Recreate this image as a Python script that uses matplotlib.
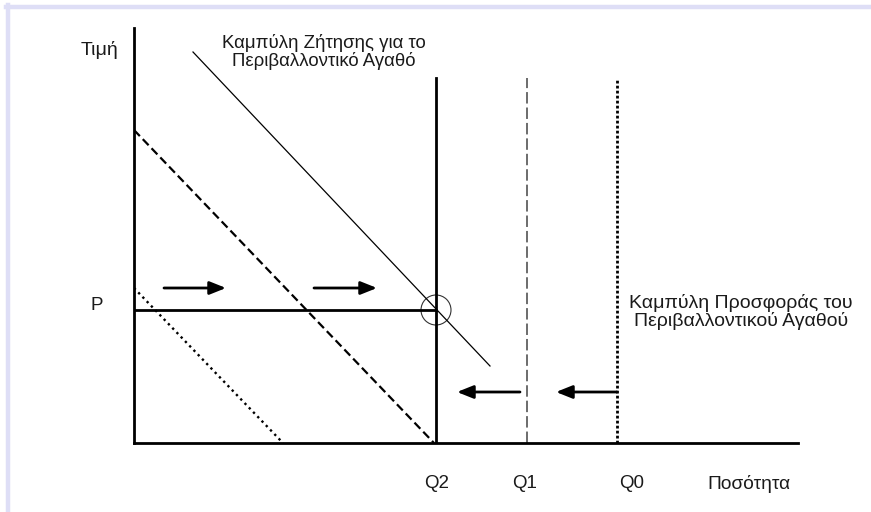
# Supply / demand diagram for an environmental good

import matplotlib.pyplot as plt
from matplotlib.lines import Line2D
from matplotlib.patches import Circle


# ===============================
# Data (quantity / price units)
# ===============================

Q_LEVELS = [30.2, 39.3, 48.3]          # Q2, Q1, Q0
Q_NAMES = ["Q2", "Q1", "Q0"]
Q_LABEL_X = [30.3, 39.1, 49.8]
SUPPLY_TOP = 36.5
PRICE_P = 13.3

# demand curves (start, end)
demand_x = [5.9, 35.6]
demand_y = [39.1, 7.7]
dashed_x = [0.0, 30.0]
dashed_y = [31.3, 0.0]
dotted_x = [0.0, 14.9]
dotted_y = [15.5, 0.0]

# shift arrows: (start x, end x, price)
arrows_right = [(3.0, 9.2, 15.5), (18.0, 24.3, 15.5)]
arrows_left = [(38.6, 32.3, 5.1), (48.3, 42.2, 5.1)]

X_MAX = 66.4
Y_MAX = 41.5

plt.rcParams['font.family'] = ['Liberation Sans', 'DejaVu Sans']


def main():

    fig = plt.figure(figsize=(8.71, 5.12), dpi=100)
    fig.patch.set_facecolor("white")

    # lavender page frame
    frame_col = "#dedef6"
    fig.add_artist(Line2D([6 / 871, 1], [1 - 7 / 512, 1 - 7 / 512],
                          color=frame_col, lw=3.2, transform=fig.transFigure))
    fig.add_artist(Line2D([8 / 871, 8 / 871], [0, 1 - 5 / 512],
                          color=frame_col, lw=3.2, transform=fig.transFigure))

    ax = fig.add_axes([134 / 871, 69 / 512, 664 / 871, 415 / 512])
    ax.set_xlim(0, X_MAX)
    ax.set_ylim(0, Y_MAX)
    for side in ["top", "right"]:
        ax.spines[side].set_visible(False)
    for side in ["left", "bottom"]:
        ax.spines[side].set_linewidth(2.0)
    ax.set_xticks([])
    ax.set_yticks([])
    ax.patch.set_alpha(0)

    # supply lines
    ax.plot([Q_LEVELS[0]] * 2, [0, SUPPLY_TOP], color="black", lw=2.0)
    ax.plot([Q_LEVELS[1]] * 2, [0, SUPPLY_TOP], color="#444444", lw=1.1,
            linestyle=(0, (7.5, 2.6)))
    ax.plot([Q_LEVELS[2]] * 2, [0, SUPPLY_TOP], color="black", lw=2.0,
            linestyle=(0, (1.0, 0.8)), dash_capstyle="butt")

    # price line
    ax.plot([0, Q_LEVELS[0]], [PRICE_P, PRICE_P], color="black", lw=2.0)

    # demand curves
    ax.plot(demand_x, demand_y, color="black", lw=0.9)
    ax.plot(dashed_x, dashed_y, color="black", lw=1.6,
            linestyle=(0, (3.8, 1.9)))
    ax.plot(dotted_x, dotted_y, color="black", lw=1.7,
            linestyle=(0, (1.0, 1.6)), dash_capstyle="butt")

    # equilibrium circle
    ax.add_patch(Circle((Q_LEVELS[0], PRICE_P), 1.5, fill=False,
                        edgecolor="#333333", lw=0.8, clip_on=False))

    # arrows
    for x0, x1, yv in arrows_right + arrows_left:
        ax.annotate("", xy=(x1, yv), xytext=(x0, yv),
                    arrowprops=dict(arrowstyle="-|>,head_length=0.7,head_width=0.28",
                                    color="black", lw=2.0, mutation_scale=14,
                                    shrinkA=0, shrinkB=0))

    # labels
    txt_col = "#1a1a1a"
    ax.text(-3.5, 39.3, "Τιμή", ha="center", va="center", fontsize=14,
            color=txt_col, clip_on=False)
    ax.text(-3.7, 13.7, "P", ha="center", va="center", fontsize=13.5,
            color=txt_col, clip_on=False)
    for qx, name in zip(Q_LABEL_X, Q_NAMES):
        ax.text(qx, -4.1, name, ha="center", va="center", fontsize=13.5,
                color=txt_col, clip_on=False)
    ax.text(61.5, -4.1, "Ποσότητα", ha="center", va="center", fontsize=13.8,
            color=txt_col, clip_on=False)

    ax.text(19.0, 39.1, "Καμπύλη Ζήτησης για το\nΠεριβαλλοντικό Αγαθό",
            ha="center", va="center", fontsize=13.4, linespacing=0.98,
            color=txt_col, clip_on=False)
    ax.text(60.7, 13.1, "Καμπύλη Προσφοράς του\nΠεριβαλλοντικού Αγαθού",
            ha="center", va="center", fontsize=14, linespacing=1.05,
            color=txt_col, clip_on=False)

    fig.savefig("out.png", dpi=100)


if __name__ == "__main__":
    main()
